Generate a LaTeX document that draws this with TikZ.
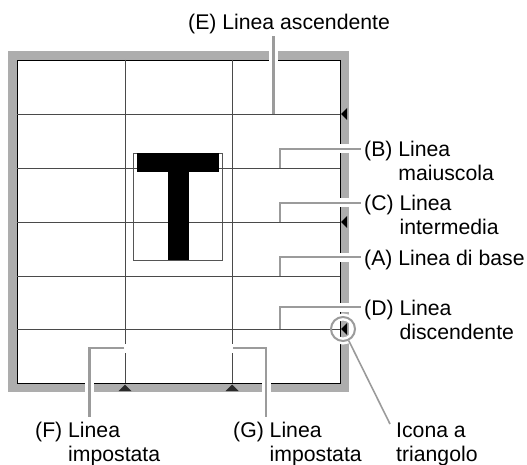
\documentclass[tikz,border=0pt]{standalone}
\usepackage{fontspec}
\setmainfont{Liberation Sans}
\definecolor{bandgray}{HTML}{ADADAD}
\definecolor{leadgray}{HTML}{9B9B9B}
\definecolor{gridgray}{HTML}{4A4A4A}
\definecolor{boxgray}{HTML}{555555}
\definecolor{trigray}{HTML}{2A2A2A}
\begin{document}
\begin{tikzpicture}[x=1bp,y=-1bp,
  band/.style={draw=bandgray, line width=9bp},
  gridline/.style={draw=gridgray, line width=0.9bp},
  halo/.style={draw=white, line width=9bp},
  leader/.style={draw=leadgray, line width=2.5bp},
  thinleader/.style={draw=leadgray, line width=1.6bp},
  lab/.style={inner sep=0pt, anchor=base west, font=\fontsize{21.3pt}{24pt}\selectfont},
  ring/.style={circle, inner sep=0pt, minimum size=24bp},
]
\useasboundingbox (0,0) rectangle (527,465);
% outer gray frame and inner black frame
\draw[band] (12.5,55.5) rectangle (344.5,387.5);
\draw[black, line width=0.9bp] (17,60) rectangle (340,383);
% vertical grid lines
\foreach \x in {125,232} \draw[gridline] (\x,60) -- (\x,383);
% box of the T glyph
\draw[boxgray, line width=0.8bp] (133.3,153.3) rectangle (222.7,260.3);
% triangle icons
\foreach \y in {114,222,329} \fill[black] (341,\y) -- (347,\y-6) -- (347,\y+6) -- cycle;
\foreach \x in {125,232} \fill[trigray] (\x,384.5) -- (\x-6.5,391) -- (\x+6.5,391) -- cycle;
% leader coordinates
\coordinate (sE) at (273.5,114); \coordinate (eE) at (273.5,36);
\coordinate (sB) at (280,168);   \coordinate (eB) at (361,149);
\coordinate (sC) at (280,222);   \coordinate (eC) at (361,203);
\coordinate (sA) at (280,276);   \coordinate (eA) at (361,257);
\coordinate (sD) at (280,329);   \coordinate (eD) at (361,307);
\coordinate (sF) at (124,348);   \coordinate (hF) at (128,348); \coordinate (eF) at (89.5,417);
\coordinate (sG) at (233,348);   \coordinate (hG) at (229,348); \coordinate (eG) at (266,417);
\coordinate (eI) at (390,424);
% halos
\draw[halo] (sE) -- (eE);
\draw[halo] (sB) |- (eB);
\draw[halo] (sC) |- (eC);
\draw[halo] (sA) |- (eA);
\draw[halo] (sD) |- (eD);
\draw[halo] (hF) -| (eF);
\draw[halo] (hG) -| (eG);
\node[ring, draw=white, line width=7bp] (ringH) at (343,329) {};
% horizontal grid lines
\foreach \y in {114,168,222,276,329} \draw[gridline] (17,\y) -- (340,\y);
% T glyph
\fill[black] (137,153.3) rectangle (219.3,172);
\fill[black] (167.7,172) rectangle (188.7,260.3);
% leaders
\draw[leader] (sE) -- (eE);
\draw[leader] (sB) |- (eB);
\draw[leader] (sC) |- (eC);
\draw[leader] (sA) |- (eA);
\draw[leader] (sD) |- (eD);
\draw[leader] (sF) -| (eF);
\draw[leader] (sG) -| (eG);
\node[ring, draw=leadgray, line width=2bp] (ring) at (343,329) {};
\draw[thinleader] (ring) -- (eI);
% labels
\node[lab] (labE) at (188,30) {(E) Linea ascendente};
\node[lab] (labB) at (364,157) {(B) Linea};
\node[lab] (labB2) at (364,181) {\phantom{(B) }maiuscola};
\node[lab] (labC) at (364,211) {(C) Linea};
\node[lab] (labC2) at (364,235) {\phantom{(C) }intermedia};
\node[lab] (labA) at (364,265) {(A) Linea di base};
\node[lab] (labD) at (364,315) {(D) Linea};
\node[lab] (labD2) at (364,339) {\phantom{(D) }discendente};
\node[lab] (labF) at (35,437.5) {(F) Linea};
\node[lab] (labF2) at (35,461.5) {\phantom{(F) }impostata};
\node[lab] (labG) at (233,437.5) {(G) Linea};
\node[lab] (labG2) at (233,461.5) {\phantom{(G) }impostata};
\node[lab] (labI) at (396,437.5) {Icona a};
\node[lab] (labI2) at (396,461.5) {triangolo};
\end{tikzpicture}
\end{document}
